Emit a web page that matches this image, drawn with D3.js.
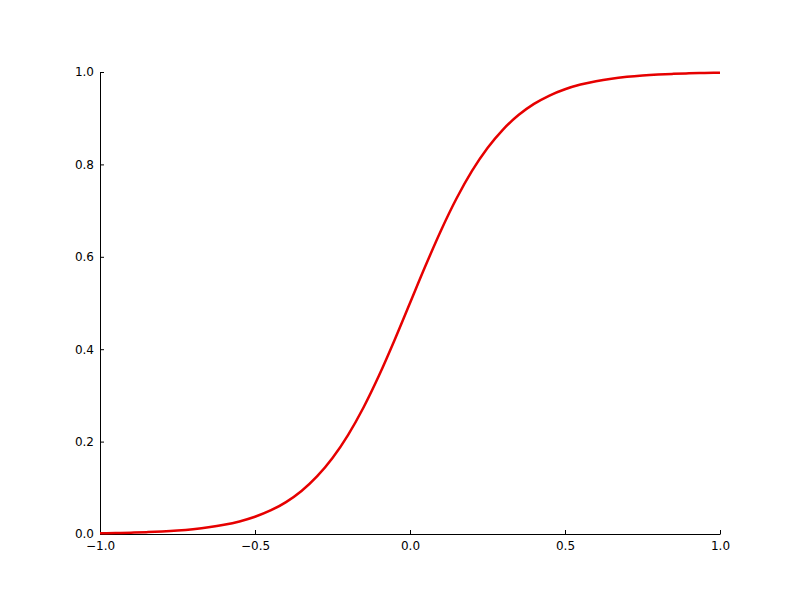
<!DOCTYPE html>
<html>
<head>
<meta charset="utf-8">
<script src="https://cdn.jsdelivr.net/npm/d3@7"></script>
<style>
  body { margin: 0; background: #fff; }
  svg { display: block; }
  .tick text { font-family: "DejaVu Sans", sans-serif; font-size: 12px; fill: #000; }
</style>
</head>
<body>
<div id="chart-area"></div>
<script>
// values
const xValues = [-1.0, -0.95, -0.9, -0.85, -0.8, -0.75, -0.7, -0.65, -0.6, -0.55, -0.5,
                 -0.45, -0.4, -0.35, -0.3, -0.25, -0.2, -0.15, -0.1, -0.05, 0.0,
                 0.05, 0.1, 0.15, 0.2, 0.25, 0.3, 0.35, 0.4, 0.45, 0.5,
                 0.55, 0.6, 0.65, 0.7, 0.75, 0.8, 0.85, 0.9, 0.95, 1.0];
const yValues = [0.0015, 0.0021, 0.0029, 0.004, 0.0055, 0.0076, 0.0105, 0.0144, 0.0198, 0.0272, 0.0373,
                 0.0509, 0.0691, 0.0932, 0.1246, 0.1645, 0.2142, 0.2739, 0.343, 0.4195, 0.5,
                 0.5805, 0.657, 0.7261, 0.7858, 0.8355, 0.8754, 0.9068, 0.9309, 0.9491, 0.9627,
                 0.9728, 0.9802, 0.9856, 0.9895, 0.9924, 0.9945, 0.996, 0.9971, 0.9979, 0.9985];
const xTicks = [-1.0, -0.5, 0.0, 0.5, 1.0];
const yTicks = [0.0, 0.2, 0.4, 0.6, 0.8, 1.0];

const canvasWidth = 800, canvasHeight = 600;
const margin = {top: 72, left: 100, bottom: 66, right: 80};
const graphWidth = canvasWidth - margin.left - margin.right;
const graphHeight = canvasHeight - margin.top - margin.bottom;

const svg = d3.select("#chart-area").append("svg")
    .attr("width", canvasWidth)
    .attr("height", canvasHeight);
const main = svg.append("g")
    .attr("transform", "translate(" + margin.left + "," + margin.top + ")");

const x = d3.scaleLinear().domain([-1, 1]).range([0, graphWidth]);
const y = d3.scaleLinear().domain([0, 1]).range([graphHeight, 0]);

const fmt = d => d3.format(".1f")(d).replace("-", "\u2212");

// axes with inward ticks
const xAxis = d3.axisBottom(x).tickValues(xTicks).tickFormat(fmt)
    .tickSizeInner(-4).tickSizeOuter(0).tickPadding(7);
const yAxis = d3.axisLeft(y).tickValues(yTicks).tickFormat(fmt)
    .tickSizeInner(-4).tickSizeOuter(0).tickPadding(6);

const xg = main.append("g")
    .attr("transform", "translate(0," + graphHeight + ")")
    .call(xAxis);
const yg = main.append("g").call(yAxis);
[xg, yg].forEach(g => {
    g.select(".domain").attr("stroke", "#000").attr("stroke-width", 1);
    g.selectAll(".tick line").attr("stroke", "#000").attr("stroke-width", 1);
    g.attr("font-family", null).attr("font-size", null);
});
yg.selectAll(".tick text").attr("x", -6);

// curve
const pts = xValues.map((d, i) => [d, yValues[i]]);
const line = d3.line()
    .x(d => x(d[0]))
    .y(d => y(d[1]))
    .curve(d3.curveMonotoneX);

main.append("path")
    .datum(pts)
    .attr("fill", "none")
    .attr("stroke", "#e60000")
    .attr("stroke-width", 2.5)
    .attr("d", line);
</script>
</body>
</html>
